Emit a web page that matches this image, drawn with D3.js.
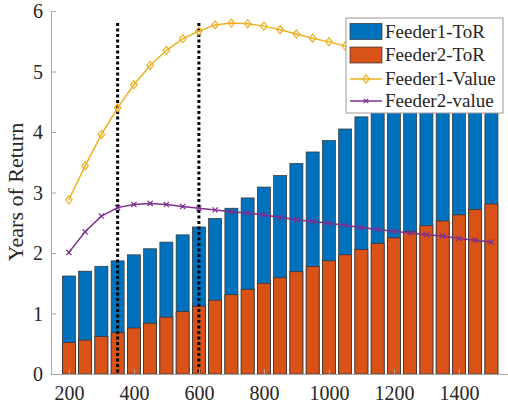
<!DOCTYPE html>
<html>
<head>
<meta charset="utf-8">
<script src="https://cdn.jsdelivr.net/npm/d3@7"></script>
<style>
  html, body { margin: 0; padding: 0; background: #fff; }
  svg { display: block; }
  svg text { font-family: "Liberation Serif", "DejaVu Serif", serif; fill: #262626; }
</style>
</head>
<body>
<svg id="chart" width="508" height="414"></svg>
<script>
// Valores
const sizes = [200, 250, 300, 350, 400, 450, 500, 550, 600, 650, 700, 750, 800, 850,
  900, 950, 1000, 1050, 1100, 1150, 1200, 1250, 1300, 1350, 1400, 1450, 1500];

const feeder1ToR = [1.62, 1.70, 1.78, 1.87, 1.97, 2.07, 2.18, 2.30, 2.43, 2.57, 2.74, 2.91, 3.09, 3.28,
  3.48, 3.67, 3.86, 4.05, 4.25, 4.44, 4.63, 4.82, 5.00, 5.20, 5.40, 5.58, 5.76];

const feeder2ToR = [0.52, 0.56, 0.62, 0.68, 0.76, 0.84, 0.94, 1.03, 1.12, 1.22, 1.31, 1.40, 1.50, 1.59,
  1.69, 1.78, 1.87, 1.97, 2.06, 2.16, 2.25, 2.35, 2.45, 2.53, 2.63, 2.72, 2.81];

const feeder1Value = [2.88, 3.44, 3.96, 4.40, 4.78, 5.10, 5.35, 5.54, 5.67, 5.77, 5.80, 5.79, 5.75, 5.69,
  5.62, 5.55, 5.49, 5.42, 5.35, 5.28, 5.21, 5.14, 5.07, 5.00, 4.93, 4.86, 4.79];

const feeder2Value = [2.01, 2.35, 2.61, 2.75, 2.80, 2.82, 2.80, 2.77, 2.74, 2.71, 2.68, 2.66, 2.63, 2.59,
  2.55, 2.52, 2.49, 2.46, 2.42, 2.39, 2.36, 2.33, 2.30, 2.28, 2.24, 2.21, 2.18];

const markLines = [350, 600];
const markTop = 5.8;

const xTicks = [200, 400, 600, 800, 1000, 1200, 1400];
const yTicks = [0, 1, 2, 3, 4, 5, 6];

const legendItems = ['Feeder1-ToR', 'Feeder2-ToR', 'Feeder1-Value', 'Feeder2-value'];

// Cores padrão do MATLAB
const blue = '#0072BD';
const orange = '#D95319';
const yellow = '#EDB120';
const purple = '#7E2F8E';
const axisColor = '#a8a8a8';
const serif = '"Liberation Serif", "DejaVu Serif", serif';

const svg = d3.select('#chart');

const x = d3.scaleLinear().domain([145, 1551]).range([51, 508]);
const y = d3.scaleLinear().domain([0, 6]).range([374, 11]);
const barW = (x(250) - x(200)) * 0.8;

// Barras: Feeder1 (total) por trás, Feeder2 por cima
const bars = svg.append('g');
bars.selectAll('rect.f1')
  .data(sizes)
  .enter()
  .append('rect')
  .attr('class', 'f1')
  .attr('x', (d) => x(d) - barW / 2)
  .attr('width', barW)
  .attr('y', (d, i) => y(feeder1ToR[i]))
  .attr('height', (d, i) => y(0) - y(feeder1ToR[i]))
  .attr('fill', blue)
  .attr('stroke', '#303030')
  .attr('stroke-width', 0.7);

bars.selectAll('rect.f2')
  .data(sizes)
  .enter()
  .append('rect')
  .attr('class', 'f2')
  .attr('x', (d) => x(d) - barW / 2)
  .attr('width', barW)
  .attr('y', (d, i) => y(feeder2ToR[i]))
  .attr('height', (d, i) => y(0) - y(feeder2ToR[i]))
  .attr('fill', orange)
  .attr('stroke', '#303030')
  .attr('stroke-width', 0.7);

// Linhas verticais pontilhadas
svg.append('g').selectAll('line')
  .data(markLines)
  .enter()
  .append('line')
  .attr('x1', (d) => x(d))
  .attr('x2', (d) => x(d))
  .attr('y1', y(markTop))
  .attr('y2', y(0))
  .attr('stroke', '#000')
  .attr('stroke-width', 3)
  .attr('stroke-dasharray', '3,2.5');

// Curvas de valor
const line = d3.line()
  .x((d, i) => x(sizes[i]))
  .y((d) => y(d));

svg.append('path')
  .datum(feeder1Value)
  .attr('d', line)
  .attr('fill', 'none')
  .attr('stroke', yellow)
  .attr('stroke-width', 1.5);

svg.append('g').selectAll('path')
  .data(feeder1Value)
  .enter()
  .append('path')
  .attr('d', 'M0,-4L3.3,0L0,4L-3.3,0Z')
  .attr('transform', (d, i) => `translate(${ x(sizes[i]) },${ y(d) })`)
  .attr('fill', 'none')
  .attr('stroke', yellow)
  .attr('stroke-width', 1.2);

svg.append('path')
  .datum(feeder2Value)
  .attr('d', line)
  .attr('fill', 'none')
  .attr('stroke', purple)
  .attr('stroke-width', 1.5);

svg.append('g').selectAll('path')
  .data(feeder2Value)
  .enter()
  .append('path')
  .attr('d', 'M-2.6,-2.6L2.6,2.6M-2.6,2.6L2.6,-2.6')
  .attr('transform', (d, i) => `translate(${ x(sizes[i]) },${ y(d) })`)
  .attr('fill', 'none')
  .attr('stroke', purple)
  .attr('stroke-width', 1.2);

// Eixos
const xAxis = svg.append('g')
  .attr('transform', `translate(0,${ y(0) })`)
  .call(d3.axisBottom(x).tickValues(xTicks).tickFormat(d3.format('d'))
    .tickSize(-5).tickPadding(12).tickSizeOuter(0));
const yAxis = svg.append('g')
  .attr('transform', `translate(${ x(145) },0)`)
  .call(d3.axisLeft(y).tickValues(yTicks).tickFormat(d3.format('d'))
    .tickSize(-5).tickPadding(8).tickSizeOuter(0));

[xAxis, yAxis].forEach((ax) => {
  ax.attr('font-family', null).attr('font-size', null);
  ax.select('.domain').attr('stroke', axisColor).attr('stroke-width', 1);
  ax.selectAll('.tick line').attr('stroke', axisColor);
  ax.selectAll('.tick text')
    .attr('fill', '#262626')
    .attr('font-family', serif)
    .attr('font-size', 20);
});
xAxis.selectAll('.tick text').attr('dy', '0.71em');
yAxis.selectAll('.tick text').attr('dy', '0.34em');

svg.append('text')
  .attr('transform', 'translate(23,192) rotate(-90)')
  .attr('text-anchor', 'middle')
  .attr('font-family', serif)
  .attr('font-size', 22)
  .text('Years of Return');

// Legenda
const legend = svg.append('g').attr('transform', 'translate(346,18)');
legend.append('rect')
  .attr('width', 157)
  .attr('height', 95)
  .attr('fill', '#fff')
  .attr('stroke', '#9a9a9a')
  .attr('stroke-width', 1);

const rowY = [13.5, 37, 61, 83];
const item = legend.selectAll('g.item')
  .data(legendItems)
  .enter()
  .append('g')
  .attr('class', 'item')
  .attr('transform', (d, i) => `translate(0,${ rowY[i] })`);

item.append('text')
  .attr('x', 39)
  .attr('dy', '0.34em')
  .attr('font-family', serif)
  .attr('font-size', 19)
  .text((d) => d);

item.filter((d, i) => i < 2).append('rect')
  .attr('x', 4)
  .attr('y', -8)
  .attr('width', 32)
  .attr('height', 16)
  .attr('fill', (d, i) => i === 0 ? blue : orange)
  .attr('stroke', '#303030')
  .attr('stroke-width', 0.7);

item.filter((d, i) => i >= 2).append('line')
  .attr('x1', 4)
  .attr('x2', 36)
  .attr('stroke', (d, i) => i === 0 ? yellow : purple)
  .attr('stroke-width', 1.5);

legend.append('path')
  .attr('d', 'M0,-4L3.3,0L0,4L-3.3,0Z')
  .attr('transform', `translate(20,${ rowY[2] })`)
  .attr('fill', 'none')
  .attr('stroke', yellow)
  .attr('stroke-width', 1.2);

legend.append('path')
  .attr('d', 'M-2.2,-2.2L2.2,2.2M-2.2,2.2L2.2,-2.2')
  .attr('transform', `translate(20,${ rowY[3] })`)
  .attr('fill', 'none')
  .attr('stroke', purple)
  .attr('stroke-width', 1.2);
</script>
</body>
</html>
